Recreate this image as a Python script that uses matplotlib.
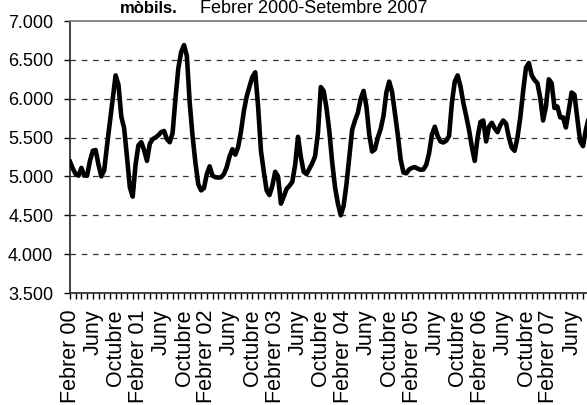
import numpy as np
import matplotlib
matplotlib.use("Agg")
import matplotlib.pyplot as plt

plt.rcParams['font.family'] = ['Liberation Sans', 'DejaVu Sans']

# valors llegits cada mig mes, des de febrer 2000
valors = [
    5190, 5100, 5030, 5010, 5110, 5010, 5010, 5200, 5330, 5340,
    5150, 5000, 5080, 5400, 5700, 6000, 6300, 6180, 5770, 5620,
    5250, 4860, 4740, 5150, 5400, 5440, 5340, 5200, 5420, 5480,
    5500, 5530, 5570, 5585, 5480, 5440, 5560, 6000, 6390, 6600,
    6690, 6550, 5950, 5520, 5180, 4900, 4820, 4850, 5030, 5130,
    5010, 4990, 4985, 4990, 5030, 5120, 5260, 5350, 5280, 5380,
    5580, 5840, 6030, 6160, 6280, 6340, 5900, 5330, 5060, 4820,
    4760, 4880, 5060, 5000, 4650, 4740, 4840, 4880, 4930, 5150,
    5510, 5250, 5060, 5030, 5100, 5170, 5260, 5560, 6150, 6100,
    5880, 5580, 5180, 4860, 4650, 4500, 4620, 4900, 5250, 5600,
    5720, 5820, 6000, 6100, 5900, 5540, 5320, 5350, 5500, 5610,
    5780, 6080, 6220, 6090, 5810, 5540, 5220, 5050, 5040, 5090,
    5110, 5120, 5100, 5085, 5090, 5150, 5300, 5540, 5640, 5520,
    5450, 5437, 5460, 5520, 5950, 6220, 6300, 6160, 5950, 5780,
    5600, 5380, 5200, 5500, 5700, 5720, 5450, 5640, 5690, 5620,
    5570, 5660, 5720, 5680, 5500, 5370, 5330, 5500, 5760, 6100,
    6400, 6460, 6300, 6240, 6200, 6010, 5720, 5900, 6250, 6200,
    5880, 5900, 5760, 5760, 5630, 5850, 6080, 6050, 5750, 5450,
    5390, 5600, 5750,
]

etiquetes_x = [
    "Febrer 00", "Juny", "Octubre", "Febrer 01", "Juny", "Octubre",
    "Febrer 02", "Juny", "Octubre", "Febrer 03", "Juny", "Octubre",
    "Febrer 04", "Juny", "Octubre", "Febrer 05", "Juny", "Octubre",
    "Febrer 06", "Juny", "Octubre", "Febrer 07", "Juny",
]
valors_y = [3500, 4000, 4500, 5000, 5500, 6000, 6500, 7000]
etiquetes_y = ["3.500", "4.000", "4.500", "5.000", "5.500", "6.000", "6.500", "7.000"]

mesos = np.arange(len(valors)) * 0.5

fig = plt.figure(figsize=(5.87, 4.05), dpi=100)
ax = fig.add_axes([70 / 587, 1 - 293 / 405, 1 - 70 / 587, (293 - 21) / 405])

for v in valors_y[1:-1]:
    ax.axhline(v, color="#333333", lw=0.9, dashes=(4.5, 4.5), zorder=1)

ax.plot(mesos, valors, color="black", lw=3.3, solid_joinstyle="round", zorder=3)

ax.set_xlim(0, 90.7)
ax.set_ylim(3500, 7000)

ax.set_yticks(valors_y)
ax.set_yticklabels(etiquetes_y, fontsize=13)
ax.set_xticks(np.arange(0, 89, 4))
ax.set_xticklabels(etiquetes_x, rotation=90, fontsize=15.5, va="top", ha="center")
ax.set_xticks(np.arange(0, 91, 1), minor=True)

ax.tick_params(axis="y", length=4, width=1, pad=8)
ax.tick_params(axis="x", which="both", length=4, width=1, pad=8)

ax.spines["right"].set_visible(False)
ax.spines["top"].set_color("#808080")
ax.spines["top"].set_linewidth(1.3)
ax.spines["left"].set_linewidth(1.3)
ax.spines["bottom"].set_linewidth(1.3)
ax.spines["bottom"].set_color("#333333")
ax.spines["left"].set_color("#333333")

fig.text(120 / 587, 1 - 13 / 405, "mòbils.", fontsize=12, fontweight="bold",
         ha="left", va="baseline")
fig.text(200 / 587, 1 - 13 / 405, "Febrer 2000-Setembre 2007", fontsize=13,
         ha="left", va="baseline")

fig.savefig("out.png", dpi=100)
